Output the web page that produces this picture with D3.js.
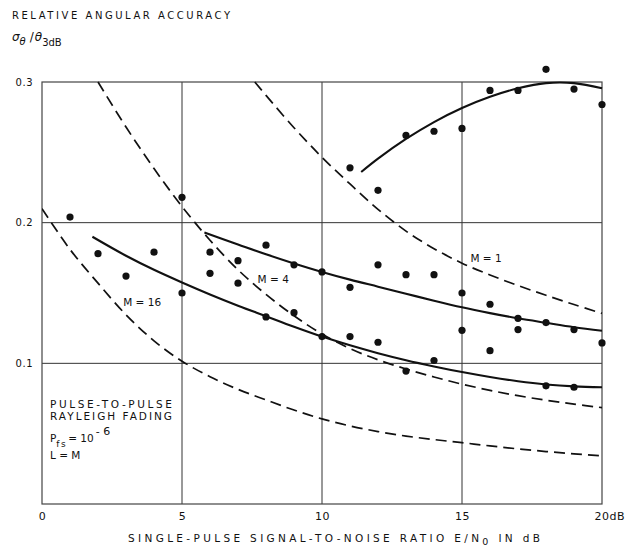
<!DOCTYPE html>
<html>
<head>
<meta charset="utf-8">
<script src="https://cdn.jsdelivr.net/npm/d3@7"></script>
<style>
  html, body { margin: 0; padding: 0; background: #fff; }
  svg { display: block; }
  text { font-family: "DejaVu Sans", "Liberation Sans", sans-serif; fill: #111; }
</style>
</head>
<body>
<svg id="chart" width="637" height="553"></svg>
<script>
// ---- Data ----
const xTickValues = [0, 5, 10, 15, 20];
const xTickLabels = ["0", "5", "10", "15", "20dB"];
const yTickValues = [0.1, 0.2, 0.3];
const yTickLabels = ["0.1", "0.2", "0.3"];

// Measured points (all plotted with the same dot marker)
const pointsX = [1, 2, 3, 4, 5, 5, 6, 6, 7, 7, 8, 8, 9, 9, 10, 10, 11, 11, 11, 12, 12, 12, 13, 13, 13,
                 14, 14, 14, 15, 15, 15, 16, 16, 16, 17, 17, 17, 18, 18, 18, 19, 19, 19, 20, 20];
const pointsY = [0.204, 0.178, 0.162, 0.179, 0.218, 0.150, 0.179, 0.164, 0.173, 0.157, 0.184, 0.133,
                 0.170, 0.136, 0.165, 0.119, 0.239, 0.154, 0.119, 0.223, 0.170, 0.115, 0.262, 0.163, 0.0945,
                 0.265, 0.163, 0.102, 0.267, 0.150, 0.1235, 0.294, 0.142, 0.109, 0.294, 0.132, 0.124,
                 0.309, 0.129, 0.084, 0.295, 0.124, 0.083, 0.284, 0.1145];

// Solid fitted curves
const solidM1X = [11.4, 12, 13, 14, 15, 16, 17, 18, 19, 20];
const solidM1Y = [0.236, 0.2455, 0.2595, 0.2715, 0.2815, 0.2895, 0.2955, 0.2992, 0.2992, 0.2955];
const solidM4X = [5.8, 7, 8, 9, 10, 11, 12, 13, 14, 15, 16, 17, 18, 19, 20];
const solidM4Y = [0.193, 0.1845, 0.1775, 0.171, 0.165, 0.1595, 0.1545, 0.1495, 0.1445, 0.1398, 0.1357, 0.132, 0.1288, 0.1257, 0.1232];
const solidM16X = [1.8, 3, 4, 5, 6, 7, 8, 9, 10, 11, 12, 13, 14, 15, 16, 17, 18, 19, 20];
const solidM16Y = [0.190, 0.1765, 0.1665, 0.1575, 0.149, 0.141, 0.1335, 0.126, 0.119, 0.1128, 0.1072, 0.1022, 0.0978,
                   0.0938, 0.0903, 0.0873, 0.085, 0.0836, 0.083];

// Dashed theoretical curves
const dashM1X = [7.6, 8, 9, 10, 11, 12, 13, 14, 15, 16, 17, 18, 19, 20];
const dashM1Y = [0.300, 0.2905, 0.2675, 0.2465, 0.2275, 0.2095, 0.194, 0.1815, 0.1712, 0.1628, 0.1553, 0.1484, 0.1418, 0.1355];
const dashM4X = [2.0, 3, 4, 5, 6, 7, 8, 9, 10, 11, 12, 13, 14, 15, 16, 17, 18, 19, 20];
const dashM4Y = [0.300, 0.268, 0.2385, 0.2115, 0.1875, 0.1665, 0.149, 0.1338, 0.1208, 0.1105, 0.1025, 0.096, 0.0903,
                 0.0852, 0.0808, 0.077, 0.0738, 0.071, 0.0685];
const dashM16X = [0, 1, 2, 3, 4, 5, 6, 7, 8, 9, 10, 11, 12, 13, 14, 15, 16, 17, 18, 19, 20];
const dashM16Y = [0.210, 0.181, 0.157, 0.1345, 0.116, 0.1015, 0.0905, 0.0815, 0.074, 0.0668, 0.0605, 0.0555, 0.0515,
                  0.0483, 0.0458, 0.0436, 0.0413, 0.0392, 0.0373, 0.0357, 0.0343];

const curveLabels = [
  { text: "M = 1", x: 15.3, y: 0.172 },
  { text: "M = 4", x: 7.7, y: 0.157 },
  { text: "M = 16", x: 2.9, y: 0.141 }
];

// ---- Drawing ----
const svg = d3.select("#chart");
const x = d3.scaleLinear().domain([0, 20]).range([42, 602]);
const y = d3.scaleLinear().domain([0, 0.3]).range([504, 82]);
const ink = "#111";

// grid lines
const grid = svg.append("g");
grid.selectAll("line.v").data([5, 10, 15]).enter().append("line")
  .attr("x1", d => x(d)).attr("x2", d => x(d))
  .attr("y1", y(0)).attr("y2", y(0.3))
  .attr("stroke", "#333").attr("stroke-width", 1);
grid.selectAll("line.h").data([0.1, 0.2]).enter().append("line")
  .attr("x1", x(0)).attr("x2", x(20))
  .attr("y1", d => y(d)).attr("y2", d => y(d))
  .attr("stroke", "#333").attr("stroke-width", 1);
// frame
svg.append("rect")
  .attr("x", x(0)).attr("y", y(0.3))
  .attr("width", x(20) - x(0)).attr("height", y(0) - y(0.3))
  .attr("fill", "none").attr("stroke", "#444").attr("stroke-width", 1.2);

// axes
const xAxis = d3.axisBottom(x).tickValues(xTickValues)
  .tickFormat((d, i) => xTickLabels[i]).tickSize(0).tickPadding(8);
const gx = svg.append("g").attr("transform", `translate(0,${y(0)})`).call(xAxis);
gx.select(".domain").remove();
gx.selectAll("text").attr("font-size", 11).attr("fill", ink)
  .style("font-family", "'DejaVu Sans', sans-serif").style("letter-spacing", "0.5px");
gx.selectAll(".tick").filter(d => d === 20).select("text")
  .attr("text-anchor", "start").attr("dx", -8);

const yAxis = d3.axisLeft(y).tickValues(yTickValues)
  .tickFormat((d, i) => yTickLabels[i]).tickSize(0).tickPadding(9);
const gy = svg.append("g").attr("transform", `translate(${x(0)},0)`).call(yAxis);
gy.select(".domain").remove();
gy.selectAll("text").attr("font-size", 10).attr("fill", ink)
  .style("font-family", "'DejaVu Sans', sans-serif").style("letter-spacing", "0.5px");

// curves
const line = d3.line().x(d => x(d[0])).y(d => y(d[1])).curve(d3.curveCatmullRom.alpha(0.5));
const zip = (a, b) => a.map((v, i) => [v, b[i]]);

svg.append("clipPath").attr("id", "plotclip").append("rect")
  .attr("x", x(0)).attr("y", y(0.3) - 6).attr("width", x(20) - x(0) + 1).attr("height", y(0) - y(0.3) + 6);

[[dashM1X, dashM1Y], [dashM4X, dashM4Y], [dashM16X, dashM16Y]].forEach(([xs, ys]) => {
  svg.append("path").datum(zip(xs, ys)).attr("d", line)
    .attr("fill", "none").attr("stroke", ink).attr("stroke-width", 1.7)
    .attr("stroke-dasharray", "11,6").attr("clip-path", "url(#plotclip)");
});
[[solidM1X, solidM1Y], [solidM4X, solidM4Y], [solidM16X, solidM16Y]].forEach(([xs, ys]) => {
  svg.append("path").datum(zip(xs, ys)).attr("d", line)
    .attr("fill", "none").attr("stroke", ink).attr("stroke-width", 2.1);
});

// points
svg.append("g").selectAll("circle").data(zip(pointsX, pointsY)).enter().append("circle")
  .attr("cx", d => x(d[0])).attr("cy", d => y(d[1])).attr("r", 3.6).attr("fill", ink);

// curve labels
svg.append("g").selectAll("text").data(curveLabels).enter().append("text")
  .attr("x", d => x(d.x)).attr("y", d => y(d.y))
  .attr("font-size", 10.5).text(d => d.text).attr("fill", ink);

// top-left titles
svg.append("text").attr("x", 12).attr("y", 18.5).attr("font-size", 10)
  .attr("textLength", 218).attr("lengthAdjust", "spacing")
  .text("RELATIVE ANGULAR ACCURACY");
const yl = svg.append("text").attr("x", 12).attr("y", 41).attr("font-size", 12);
yl.append("tspan").attr("font-style", "italic").text("σ");
yl.append("tspan").attr("font-style", "italic").attr("font-size", 10).attr("dy", 4).text("θ");
yl.append("tspan").attr("dy", -4).attr("dx", 4).text("/");
yl.append("tspan").attr("font-style", "italic").attr("dx", 1).text("θ");
yl.append("tspan").attr("font-size", 10).attr("dy", 5).text("3dB");

// x-axis title
const xt = svg.append("text").attr("x", 128).attr("y", 542).attr("font-size", 10.5)
  .attr("textLength", 412).attr("lengthAdjust", "spacing");
xt.append("tspan").text("SINGLE-PULSE SIGNAL-TO-NOISE RATIO E/N");
xt.append("tspan").attr("dy", 3).attr("font-size", 9.5).text("0");
xt.append("tspan").attr("dy", -3).text(" IN dB");

// annotation box text
const ann = svg.append("g").attr("font-size", 10.5);
ann.append("text").attr("x", 50).attr("y", 408).attr("textLength", 122).attr("lengthAdjust", "spacing")
  .text("PULSE-TO-PULSE");
ann.append("text").attr("x", 50).attr("y", 420).attr("textLength", 122).attr("lengthAdjust", "spacing")
  .text("RAYLEIGH FADING");
const pf = ann.append("text").attr("x", 50).attr("y", 442);
pf.append("tspan").text("P");
pf.append("tspan").attr("dy", 5).attr("font-size", 9).style("letter-spacing", "1.5px").text("fs");
pf.append("tspan").attr("dy", -5).attr("dx", 1).text("= 10");
pf.append("tspan").attr("dy", -7).attr("dx", 2).attr("font-size", 11).text("- 6");
ann.append("text").attr("x", 50).attr("y", 459).text("L = M");
</script>
</body>
</html>
